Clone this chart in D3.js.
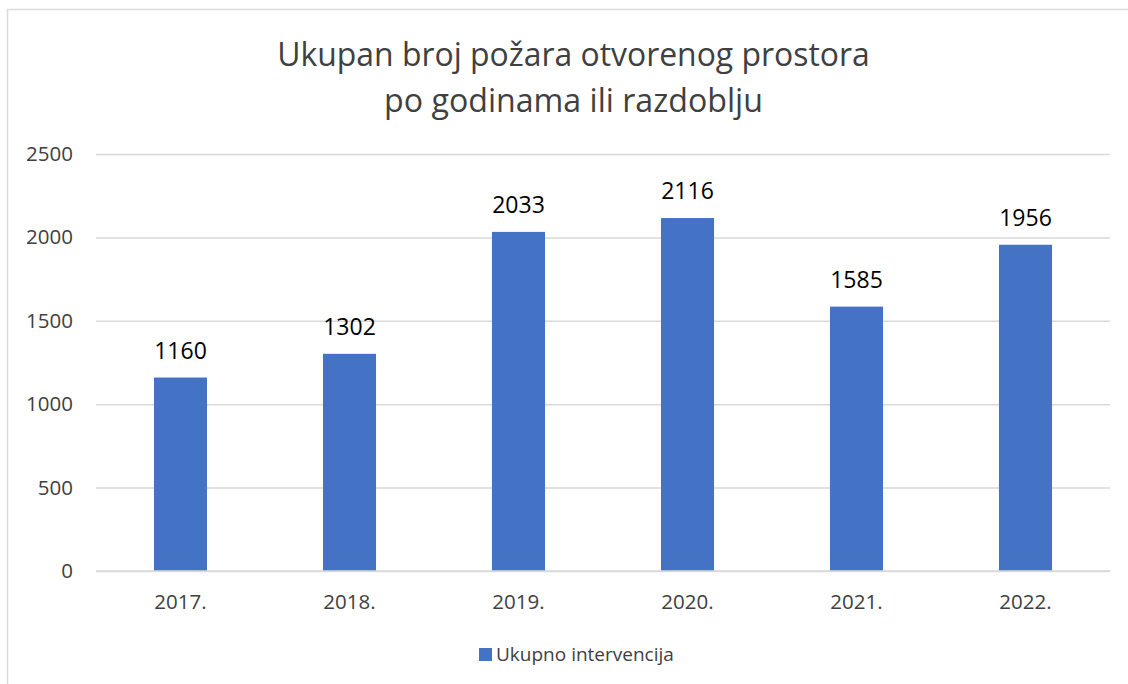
<!DOCTYPE html>
<html><head><meta charset="utf-8">
<script src="https://cdn.jsdelivr.net/npm/d3@7"></script>
<style>body{margin:0;background:#fff}svg{display:block}</style>
</head><body>
<svg id="c" width="1128" height="684"></svg>
<script>
const titleLines = ["Ukupan broj požara otvorenog prostora", "po godinama ili razdoblju"];
const categories = ["2017.", "2018.", "2019.", "2020.", "2021.", "2022."];
const values = [1160, 1302, 2033, 2116, 1585, 1956];
const yTicks = [0, 500, 1000, 1500, 2000, 2500];
const seriesName = "Ukupno intervencija";

const font = "'Open Sans', 'Liberation Sans', sans-serif";
const svg = d3.select("#c");
svg.append("rect").attr("x", 7.5).attr("y", 9.5).attr("width", 1130).attr("height", 690)
  .attr("fill", "#fff").attr("stroke", "#d9d9d9").attr("stroke-width", 1.5);

const pLeft = 96, pRight = 1110, pTop = 154, pBottom = 571;
const x = d3.scaleBand().domain(categories).range([pLeft, pRight]).paddingInner(0.686).paddingOuter(0.343);
const y = d3.scaleLinear().domain([0, 2500]).range([pBottom, pTop]);

// title
const tWidths = [593, 379];
const tBase = [65.5, 112];
titleLines.forEach((t, i) => {
  const el = svg.append("text").attr("x", 573.5).attr("y", tBase[i]).attr("text-anchor", "middle")
    .attr("font-family", font).attr("font-size", 30).attr("fill", "#404040").text(t);
  const w = el.node().getComputedTextLength();
  el.attr("font-size", 30 * tWidths[i] / w);
});

// gridlines
const yAxis = d3.axisLeft(y).tickValues(yTicks).tickFormat(d3.format("d")).tickSize(-(pRight - pLeft)).tickPadding(23);
const gy = svg.append("g").attr("transform", `translate(${pLeft},0)`).call(yAxis);
gy.select(".domain").remove();
gy.selectAll(".tick line").attr("stroke", "#d9d9d9").attr("stroke-width", 1.5);
gy.selectAll(".tick text").attr("font-family", font).attr("font-size", 20.5).attr("fill", "#404040");

// bars
svg.append("g").selectAll("rect").data(values).join("rect")
  .attr("x", (d, i) => x(categories[i])).attr("width", x.bandwidth())
  .attr("y", d => y(d)).attr("height", d => y(0) - y(d)).attr("fill", "#4472c4");

// baseline over bars
svg.append("line").attr("x1", pLeft).attr("x2", pRight).attr("y1", y(0)).attr("y2", y(0))
  .attr("stroke", "#d9d9d9").attr("stroke-width", 1.5);

// data labels
svg.append("g").selectAll("text").data(values).join("text")
  .attr("x", (d, i) => x(categories[i]) + x.bandwidth() / 2).attr("y", d => y(d) - 19)
  .attr("text-anchor", "middle").attr("font-family", font).attr("font-size", 23).attr("fill", "#000")
  .text(d => d);

// x axis
const xAxis = d3.axisBottom(x).tickSize(0).tickPadding(23);
const gx = svg.append("g").attr("transform", `translate(0,${pBottom})`).call(xAxis);
gx.select(".domain").remove();
gx.selectAll(".tick text").attr("font-family", font).attr("font-size", 20.5).attr("fill", "#404040");

// legend
const lg = svg.append("g");
lg.append("rect").attr("x", 479).attr("y", 648).attr("width", 13).attr("height", 13).attr("fill", "#4472c4");
lg.append("text").attr("x", 496).attr("y", 661).attr("font-family", font).attr("font-size", 19)
  .attr("fill", "#404040").text(seriesName);
</script>
</body></html>
